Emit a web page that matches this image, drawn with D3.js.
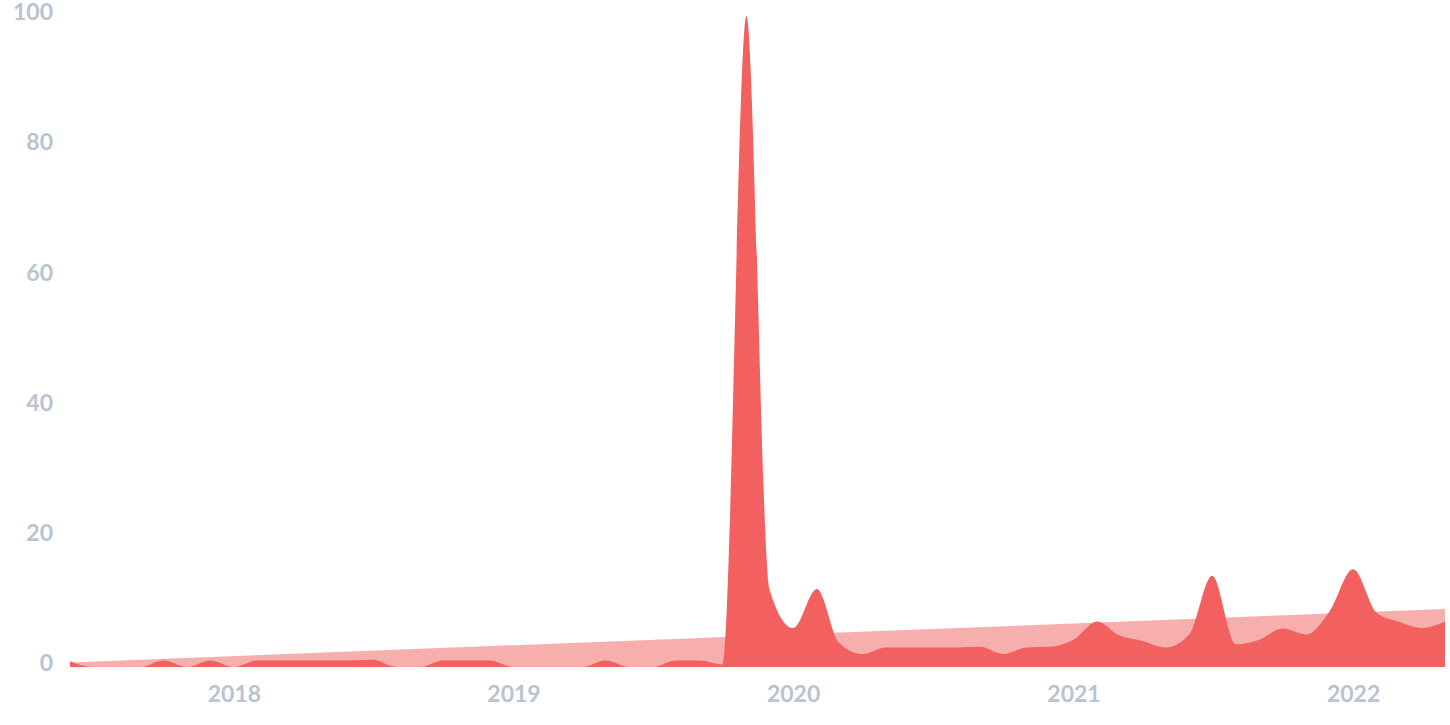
<!DOCTYPE html>
<html>
<head>
<meta charset="utf-8">
<script src="https://cdn.jsdelivr.net/npm/d3@7"></script>
<style>
  html, body { margin: 0; padding: 0; background: #ffffff; }
  svg { display: block; }
</style>
</head>
<body>
<svg id="chart" width="1450" height="725"></svg>
<script>
// ---- data ----
const startMonth = "2017-06";
const endMonth = "2022-05";
// monthly interest values, Jun 2017 .. May 2022
const values = [
  0.9, 0, 0, 0, 1, 0, 1,                 // 2017 Jun-Dec
  0, 1, 1, 1, 1, 1, 1.1, 0, 0, 1, 1, 1,  // 2018
  0, 0, 0, 0, 1, 0, 0, 1, 1, 0.4, 100, 12, // 2019
  6, 12, 3.7, 2, 3, 3, 3, 3, 3.1, 2, 3, 3.1, // 2020
  4.2, 7, 4.9, 4, 3, 5, 14, 3.5, 4.2, 5.9, 5, 8.5, // 2021
  15, 8.3, 7, 6, 7                        // 2022 Jan-May
];
// linear trend: value at first and last month
const trendValues = [0.7, 8.9];
const yTicks = [0, 20, 40, 60, 80, 100];
const xTickYears = [2018, 2019, 2020, 2021, 2022];

// ---- build ----
const parseMonth = d3.timeParse("%Y-%m");
const t0 = parseMonth(startMonth), t1 = parseMonth(endMonth);
const months = d3.timeMonth.range(t0, d3.timeMonth.offset(t1, 1));
const series = months.map((d, i) => ({ date: d, value: values[i] }));
const trend = [{ date: t0, value: trendValues[0] }, { date: t1, value: trendValues[1] }];

const svg = d3.select("#chart");
const x = d3.scaleTime().domain([t0, t1]).range([70, 1445]);
const y = d3.scaleLinear().domain([0, 100]).range([667, 16]);

const trendArea = d3.area()
  .x(d => x(d.date)).y0(y(0)).y1(d => y(d.value));
svg.append("path").datum(trend)
  .attr("d", trendArea).attr("fill", "#f7afad");

const area = d3.area()
  .curve(d3.curveMonotoneX)
  .x(d => x(d.date)).y0(y(0)).y1(d => y(d.value));
svg.append("path").datum(series)
  .attr("d", area).attr("fill", "#f2615f");

const font = "Lato, 'Open Sans', sans-serif";
const labelColor = "#b8c4d0";

const yAxis = d3.axisLeft(y).tickValues(yTicks).tickSize(0).tickPadding(0);
const gy = svg.append("g").attr("transform", "translate(53,0)").call(yAxis);
gy.select(".domain").remove();
gy.selectAll("text")
  .attr("fill", labelColor)
  .attr("font-family", font)
  .attr("font-weight", 700)
  .attr("font-size", 23)
  .attr("dy", "0.16em");

const xAxis = d3.axisBottom(x)
  .tickValues(xTickYears.map(yr => new Date(yr, 0, 1)))
  .tickFormat(d3.timeFormat("%Y"))
  .tickSize(0).tickPadding(0);
const gx = svg.append("g").attr("transform", "translate(0,686)").call(xAxis);
gx.select(".domain").remove();
gx.selectAll("text")
  .attr("fill", labelColor)
  .attr("font-family", font)
  .attr("font-weight", 700)
  .attr("font-size", 23)
  .attr("dy", "0.71em");
</script>
</body>
</html>
